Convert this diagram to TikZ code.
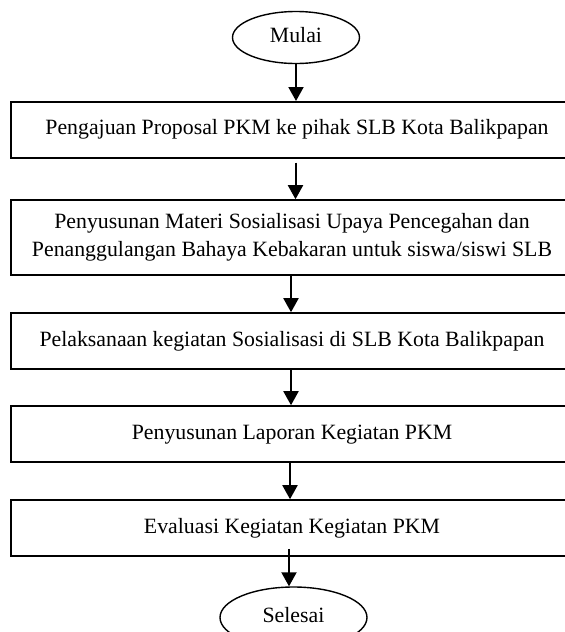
\documentclass[tikz,border=0pt]{standalone}
\usepackage{fontspec}
\setmainfont{Liberation Serif}
\usetikzlibrary{shapes.geometric,arrows.meta}
\begin{document}
\begin{tikzpicture}[x=1pt,y=-1pt,
  every node/.style={font=\fontsize{21.8}{28}\selectfont},
  stepbox/.style={draw,line width=1.6pt,rectangle,minimum height=56pt,inner sep=0pt},
  onebox/.style={stepbox,text height=15pt,text depth=5pt},
  term/.style={draw,line width=1.4pt,ellipse,inner sep=0pt,minimum height=52pt,text height=15pt,text depth=5pt},
  flow/.style={line width=2pt,-{Triangle[width=15pt,length=14pt]}}]
\useasboundingbox (0,0) rectangle (565,632);
\clip (0,0) rectangle (565,632);
\node[term,minimum width=127pt] (start) at (296,37.5) {Mulai};
\node[onebox,minimum width=572pt] (b1) at (297,129.8) {Pengajuan Proposal PKM ke pihak SLB Kota Balikpapan};
\node[stepbox,minimum width=562pt,minimum height=75pt,align=center] (b2) at (292,237.5) {Penyusunan Materi Sosialisasi Upaya Pencegahan dan\\Penanggulangan Bahaya Kebakaran untuk siswa/siswi SLB};
\node[onebox,minimum width=562pt] (b3) at (292,341) {Pelaksanaan kegiatan Sosialisasi di SLB Kota Balikpapan};
\node[onebox,minimum width=562pt] (b4) at (292,434) {Penyusunan Laporan Kegiatan PKM};
\node[onebox,minimum width=562pt] (b5) at (292,528) {Evaluasi Kegiatan Kegiatan PKM};
\node[term,minimum width=147pt,minimum height=61pt] (end) at (293.5,617.5) {Selesai};
\draw[flow] (start.south -| 296,0) -- (b1.north -| 296,0);
\draw[flow,shorten <=4pt] (b1.south -| 295.5,0) -- (b2.north -| 295.5,0);
\draw[flow] (b2.south -| 291,0) -- (b3.north -| 291,0);
\draw[flow] (b3.south -| 291,0) -- (b4.north -| 291,0);
\draw[flow] (b4.south -| 290,0) -- (b5.north -| 290,0);
\draw[flow,shorten <=-8pt] (b5.south -| 289,0) -- (end.north -| 289,0);
\end{tikzpicture}
\end{document}
